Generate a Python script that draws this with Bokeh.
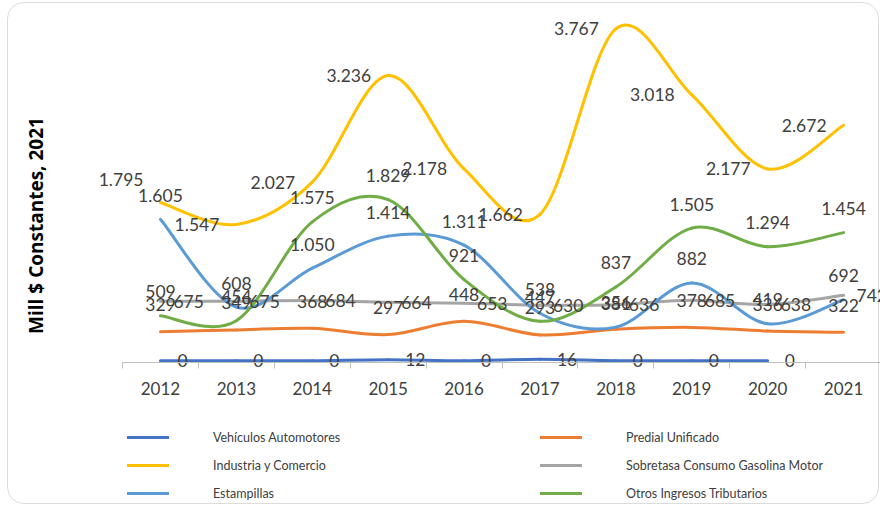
import math

from bokeh.plotting import figure
from bokeh.models import (Range1d, FixedTicker, Legend, LegendItem, Label,
                          BoxAnnotation, ColumnDataSource)
from bokeh.core.properties import value
from bokeh.embed import file_html
from bokeh.resources import INLINE

# ---- data (Mill $ constantes 2021) ----
years = [2012, 2013, 2014, 2015, 2016, 2017, 2018, 2019, 2020, 2021]
vehiculos = [0, 0, 0, 12, 0, 16, 0, 0, 0, None]
predial = [329, 349, 368, 297, 448, 293, 356, 378, 336, 322]
industria = [1795, 1547, 2027, 3236, 2178, 1662, 3767, 3018, 2177, 2672]
sobretasa = [675, 675, 684, 664, 653, 630, 636, 685, 638, 742]
estampillas = [1605, 608, 1050, 1414, 1311, 538, 381, 882, 419, 692]
otros = [509, 454, 1575, 1829, 921, 447, 837, 1505, 1294, 1454]

series_names = ["Vehículos Automotores", "Predial Unificado", "Industria y Comercio",
                "Sobretasa Consumo Gasolina Motor", "Estampillas", "Otros Ingresos Tributarios"]

FONT = "Lato"
LABEL_COLOR = "#404040"

# The plotting frame fills the whole canvas; the axis sits inside it.
W, H = 880, 505
PX_PER_YEAR = 75.9
PX_PER_UNIT = 0.0881
X0_PX = 122            # left edge of the first category
ZERO_PX = 360.2        # vertical pixel of value 0 (from top)
x_start = years[0] - 0.5 - X0_PX / PX_PER_YEAR
x_end = x_start + W / PX_PER_YEAR
y_end = ZERO_PX / PX_PER_UNIT
y_start = -(H - ZERO_PX) / PX_PER_UNIT

p = figure(width=W, height=H, output_backend="svg", toolbar_location=None,
           x_range=Range1d(x_start, x_end), y_range=Range1d(y_start, y_end),
           min_border=0)
p.outline_line_color = None
p.grid.visible = False
p.background_fill_color = "white"
p.border_fill_color = "white"
p.yaxis.visible = False

# x axis: year labels at category centres, small marks between categories
xa = p.xaxis[0]
xa.fixed_location = -20
xa.bounds = (years[0] - 0.5, years[-1] + 0.5)
xa.ticker = FixedTicker(ticks=years, minor_ticks=[y + 0.5 for y in [years[0] - 1] + years])
xa.major_label_overrides = {y: str(y) for y in years}
xa.major_tick_out = 0
xa.major_tick_in = 0
xa.minor_tick_out = 6
xa.minor_tick_in = 0
xa.minor_tick_line_color = "#bfbfbf"
xa.axis_line_color = "#bfbfbf"
xa.axis_line_width = 1
xa.major_label_standoff = 14
xa.major_label_text_font = FONT
xa.major_label_text_font_size = "17px"
xa.major_label_text_color = LABEL_COLOR


def fmt(v):
    return f"{v:,}".replace(",", ".")


def smooth_segments(xs, ys):
    """Cubic Bezier segments (Catmull-Rom style) through the given points."""
    pts = [(x, y) for x, y in zip(xs, ys) if y is not None]
    n = len(pts)
    seg = {k: [] for k in ("x0", "y0", "x1", "y1", "cx0", "cy0", "cx1", "cy1")}
    for i in range(n - 1):
        p0 = pts[max(i - 1, 0)]
        p1 = pts[i]
        p2 = pts[i + 1]
        p3 = pts[min(i + 2, n - 1)]
        seg["x0"].append(p1[0]); seg["y0"].append(p1[1])
        seg["x1"].append(p2[0]); seg["y1"].append(p2[1])
        seg["cx0"].append(p1[0] + (p2[0] - p0[0]) / 6.0)
        seg["cy0"].append(p1[1] + (p2[1] - p0[1]) / 6.0)
        seg["cx1"].append(p2[0] - (p3[0] - p1[0]) / 6.0)
        seg["cy1"].append(p2[1] - (p3[1] - p1[1]) / 6.0)
    return ColumnDataSource(seg)


series = [
    (series_names[0], vehiculos, "#4472C4", "right"),
    (series_names[1], predial, "#ED7D31", "above_low"),
    (series_names[2], industria, "#FFC000", "left"),
    (series_names[3], sobretasa, "#A5A5A5", "right_near"),
    (series_names[4], estampillas, "#5B9BD5", "above"),
    (series_names[5], otros, "#70AD47", "above"),
]

renderers = {}
for name, vals, color, _ in series:
    src = smooth_segments(years, vals)
    r = p.bezier(x0="x0", y0="y0", x1="x1", y1="y1", cx0="cx0", cy0="cy0",
                 cx1="cx1", cy1="cy1", source=src, line_color=color, line_width=3,
                 line_cap="round")
    renderers[name] = r

# data labels
placements = {
    "left": dict(text_align="right", x_offset=-17, y_offset=0),
    "right": dict(text_align="left", x_offset=17, y_offset=0),
    "right_near": dict(text_align="left", x_offset=13, y_offset=0),
    "above": dict(text_align="center", x_offset=0, y_offset=-24),
    "above_low": dict(text_align="center", x_offset=0, y_offset=-27),
}
# extra shift (px) for a label lifted clear of its neighbour
label_nudge = {(series_names[2], 2012): -23}

for name, vals, color, place in series:
    xs = [x for x, v in zip(years, vals) if v is not None]
    ys = [v for v in vals if v is not None]
    base = placements[place]
    dy = [base["y_offset"] + label_nudge.get((name, x), 0) for x in xs]
    src = ColumnDataSource(dict(x=xs, y=ys, t=[fmt(v) for v in ys], dy=dy))
    p.text(x="x", y="y", text="t", source=src, text_font=value(FONT),
           text_font_size="17.5px", text_color=LABEL_COLOR, text_baseline="middle",
           text_align=base["text_align"], x_offset=base["x_offset"], y_offset="dy")

# y-axis title
p.add_layout(Label(x=35, y=H - 225, x_units="screen", y_units="screen",
                   text="Mill $ Constantes, 2021", angle=math.pi / 2,
                   text_align="center", text_baseline="middle",
                   text_font="Open Sans", text_font_style="bold",
                   text_font_size="19px", text_color="#000000"))

# legend: two columns under the axis
order = [series_names[0], series_names[2], series_names[4],
         series_names[1], series_names[3], series_names[5]]
legend = Legend(items=[LegendItem(label=n, renderers=[renderers[n]]) for n in order],
                location=(127, H - 503), orientation="vertical", ncols=2,
                glyph_width=42, glyph_height=20, label_height=20,
                label_standoff=44, label_width=319, spacing=8,
                padding=0, margin=0, border_line_color=None,
                background_fill_alpha=0,
                label_text_font=FONT, label_text_font_size="12.5px",
                label_text_color=LABEL_COLOR)
p.add_layout(legend, "center")

# rounded chart border
p.add_layout(BoxAnnotation(left=7, right=878, bottom=2, top=H - 2,
                           left_units="screen", right_units="screen",
                           bottom_units="screen", top_units="screen",
                           fill_alpha=0, line_color="#8c8c8c", line_width=1,
                           border_radius=16))

open("out.html", "w").write(file_html(p, INLINE))
